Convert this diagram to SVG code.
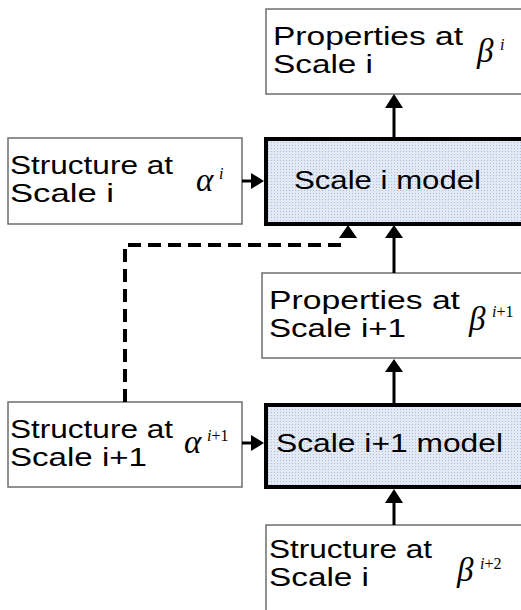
<svg xmlns="http://www.w3.org/2000/svg" width="521" height="610" viewBox="0 0 521 610">
<defs>
<pattern id="dots" width="3" height="3" patternUnits="userSpaceOnUse">
<rect width="3" height="3" fill="#e2e9f4"/>
<rect x="1" y="1" width="1" height="1" fill="#aebfd8"/>
</pattern>
<style>
.box{fill:#fff;stroke:#6e6e6e;stroke-width:1.5}
.model{fill:url(#dots);stroke:#000;stroke-width:4}
.t{font-family:"Liberation Sans",Arial,sans-serif;font-size:25px;fill:#000}
.g{font-family:"Liberation Serif","Times New Roman",serif;font-style:italic;font-size:33px;fill:#000}
.s{font-family:"Liberation Serif","Times New Roman",serif;font-size:16px;fill:#000}
.ln{stroke:#000;stroke-width:3;fill:none}
.dash{stroke:#000;stroke-width:4;fill:none;stroke-dasharray:13 7}
.ah{fill:#000}
</style>
</defs>
<g id="props_i">
<rect class="box" x="266" y="9" width="270" height="85"/>
<text class="t" x="273" y="45" textLength="190" lengthAdjust="spacingAndGlyphs">Properties at</text>
<text class="t" x="273" y="73" textLength="100" lengthAdjust="spacingAndGlyphs">Scale i</text>
<text class="g" x="477" y="62">β</text>
<text class="s" x="500" y="50" font-style="italic">i</text>
</g>
<g id="struct_i">
<rect class="box" x="8" y="138" width="234" height="86"/>
<text class="t" x="10" y="174" textLength="163" lengthAdjust="spacingAndGlyphs">Structure at</text>
<text class="t" x="10" y="202" textLength="104" lengthAdjust="spacingAndGlyphs">Scale i</text>
<text class="g" x="196" y="191">α</text>
<text class="s" x="219" y="179" font-style="italic">i</text>
</g>
<g id="model_i">
<rect class="model" x="266" y="139" width="270" height="85"/>
<text class="t" x="294" y="189" textLength="187" lengthAdjust="spacingAndGlyphs">Scale i model</text>
</g>
<g id="props_i1">
<rect class="box" x="262" y="273" width="274" height="85"/>
<text class="t" x="269" y="309" textLength="191" lengthAdjust="spacingAndGlyphs">Properties at</text>
<text class="t" x="269" y="337" textLength="137" lengthAdjust="spacingAndGlyphs">Scale i+1</text>
<text class="g" x="469" y="330">β</text>
<text class="s" x="492" y="317"><tspan font-style="italic">i</tspan>+1</text>
</g>
<g id="struct_i1">
<rect class="box" x="8" y="402" width="234" height="85"/>
<text class="t" x="10" y="438" textLength="163" lengthAdjust="spacingAndGlyphs">Structure at</text>
<text class="t" x="10" y="466" textLength="137" lengthAdjust="spacingAndGlyphs">Scale i+1</text>
<text class="g" x="184" y="453">α</text>
<text class="s" x="207" y="441"><tspan font-style="italic">i</tspan>+1</text>
</g>
<g id="model_i1">
<rect class="model" x="266" y="405" width="270" height="82"/>
<text class="t" x="276" y="452" textLength="227" lengthAdjust="spacingAndGlyphs">Scale i+1 model</text>
</g>
<g id="struct_i2">
<rect class="box" x="266" y="525" width="270" height="95"/>
<text class="t" x="269" y="558" textLength="163" lengthAdjust="spacingAndGlyphs">Structure at</text>
<text class="t" x="269" y="586" textLength="100" lengthAdjust="spacingAndGlyphs">Scale i</text>
<text class="g" x="457" y="581">β</text>
<text class="s" x="480" y="569"><tspan font-style="italic">i</tspan>+2</text>
</g>
<g id="connectors">
<line class="ln" x1="394" y1="137" x2="394" y2="106"/>
<polygon class="ah" points="394,94 385,108 403,108"/>
<line class="ln" x1="242" y1="181" x2="253" y2="181"/>
<polygon class="ah" points="264,181 251,173 251,189"/>
<line class="ln" x1="394" y1="273" x2="394" y2="235"/>
<polygon class="ah" points="394,225 385,238 403,238"/>
<line class="ln" x1="394" y1="403" x2="394" y2="370"/>
<polygon class="ah" points="394,359 385,372 403,372"/>
<line class="ln" x1="242" y1="443" x2="253" y2="443"/>
<polygon class="ah" points="264,443 251,435 251,451"/>
<line class="ln" x1="394" y1="525" x2="394" y2="500"/>
<polygon class="ah" points="394,489 385,503 403,503"/>
<path class="dash" d="M125,402 V245 H348"/>
<polygon class="ah" points="348,225 339,238 357,238"/>
</g>
</svg>
